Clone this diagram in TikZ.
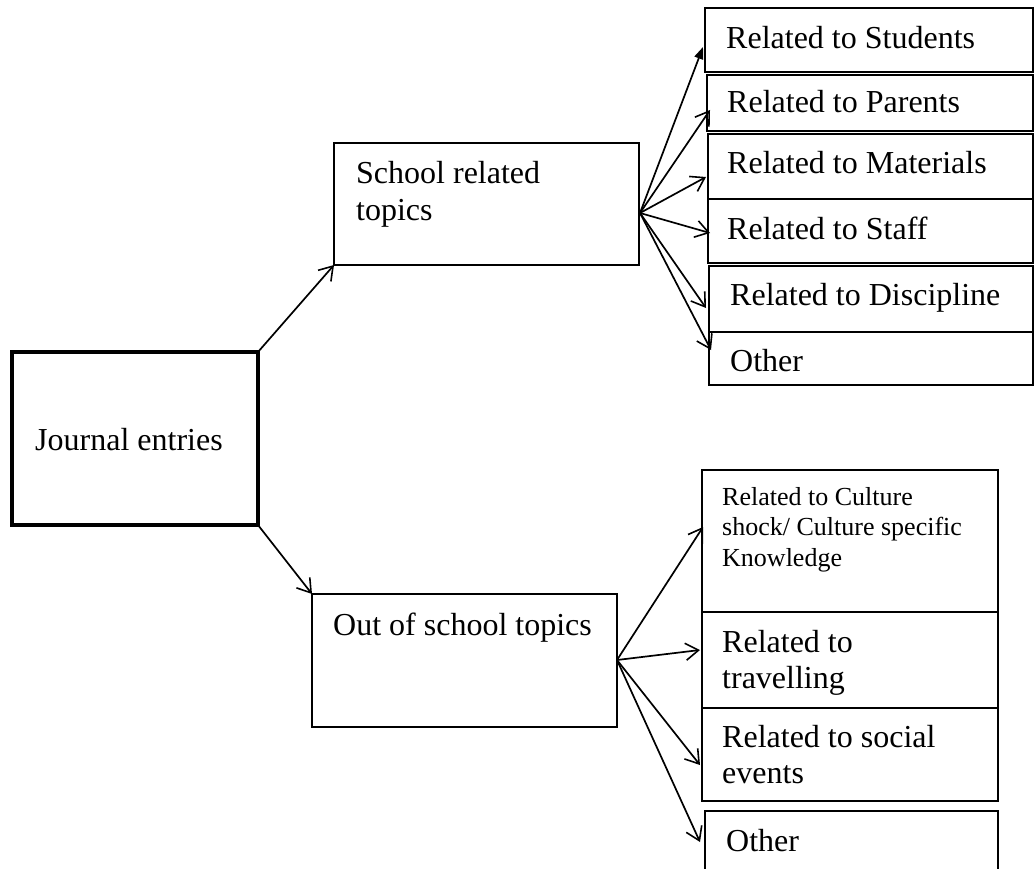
\documentclass[tikz,border=0pt]{standalone}
\usepackage{fontspec}
\setmainfont{Liberation Serif}
\usetikzlibrary{arrows.meta,calc}
\begin{document}
\begin{tikzpicture}[x=1pt,y=-1pt,
  box/.style={draw,line width=1.6pt,inner sep=0pt,outer sep=0pt,anchor=north west},
  txt/.style={anchor=base west,inner sep=0pt,font=\fontsize{32}{37}\selectfont},
  smalltxt/.style={anchor=base west,inner sep=0pt,font=\fontsize{26}{30}\selectfont},
  conn/.style={line width=1.7pt,-{Straight Barb[length=13pt,width=17pt,line width=1.6pt]}},
  fconn/.style={line width=1.7pt,-{Triangle[length=12pt,width=9pt]}}]
\useasboundingbox (0,0) rectangle (1035,869);
\clip (0,0) rectangle (1035,869);
% main box
\node[box,line width=4pt,minimum width=246pt,minimum height=173pt] (j) at (12,352) {};
\node[txt] (jt) at (35,450) {Journal entries};
% second level
\node[box,minimum width=305pt,minimum height=122pt] (sch) at (334,143) {};
\node[txt] (scht1) at (356,183) {School related};
\node[txt] (scht2) at (356,220) {topics};
\node[box,minimum width=305pt,minimum height=133pt] (out) at (312,594) {};
\node[txt] (outt) at (333,635) {Out of school topics};
% top right boxes
\node[box,line width=2.2pt,minimum width=328pt,minimum height=64pt] (s1) at (705,8) {};
\node[txt] (s1t) at (726,49) {Related to Students};
\node[box,minimum width=326pt,minimum height=56pt] (s2) at (707,75) {};
\node[txt] (s2t) at (727,113) {Related to Parents};
\node[box,minimum width=325pt,minimum height=65pt] (s3) at (708,134) {};
\node[txt] (s3t) at (727,174) {Related to Materials};
\node[box,minimum width=325pt,minimum height=64pt] (s4) at (708,199) {};
\node[txt] (s4t) at (727,239) {Related to Staff};
\node[box,minimum width=324pt,minimum height=66pt] (s5) at (709,266) {};
\node[txt] (s5t) at (730,305) {Related to Discipline};
\node[box,minimum width=324pt,minimum height=53pt] (s6) at (709,332) {};
\node[txt] (s6t) at (730,371) {Other};
% bottom right boxes
\node[box,minimum width=296pt,minimum height=142pt] (o1) at (702,470) {};
\node[smalltxt] (o1t1) at (722,505) {Related to Culture};
\node[smalltxt] (o1t2) at (722,535) {shock/ Culture specific};
\node[smalltxt] (o1t3) at (722,566) {Knowledge};
\node[box,minimum width=296pt,minimum height=96pt] (o2) at (702,612) {};
\node[txt] (o2t1) at (722,652) {Related to};
\node[txt] (o2t2) at (722,688) {travelling};
\node[box,minimum width=296pt,minimum height=93pt] (o3) at (702,708) {};
\node[txt] (o3t1) at (722,747) {Related to social};
\node[txt] (o3t2) at (722,783) {events};
\node[box,minimum width=293pt,minimum height=80pt] (o4) at (705,811) {};
\node[txt] (o4t) at (726,851) {Other};
% connectors
\draw[conn] (j.north east) -- (sch.south west);
\draw[conn] (j.south east) -- (out.north west);
\coordinate (so) at ($(sch.north east)+(1,70)$);
\draw[fconn] (so) -- ($(s1.north west)+(-2,39)$);
\draw[conn] (so) -- ($(s2.north west)+(3,35)$);
\draw[conn] (so) -- ($(s3.north west)+(-2,43)$);
\draw[conn] (so) -- ($(s4.north west)+(2,34)$);
\draw[conn] (so) -- ($(s5.north west)+(-3,42)$);
\draw[conn] (so) -- ($(s6.north west)+(2,18)$);
\coordinate (oo) at ($(out.north east)+(0,66)$);
\draw[conn] (oo) -- ($(o1.north west)+(1,57)$);
\draw[conn] (oo) -- ($(o2.north west)+(-2,38)$);
\draw[conn] (oo) -- ($(o3.north west)+(-2,57)$);
\draw[conn] (oo) -- ($(o4.north west)+(-5,31)$);
\end{tikzpicture}
\end{document}
